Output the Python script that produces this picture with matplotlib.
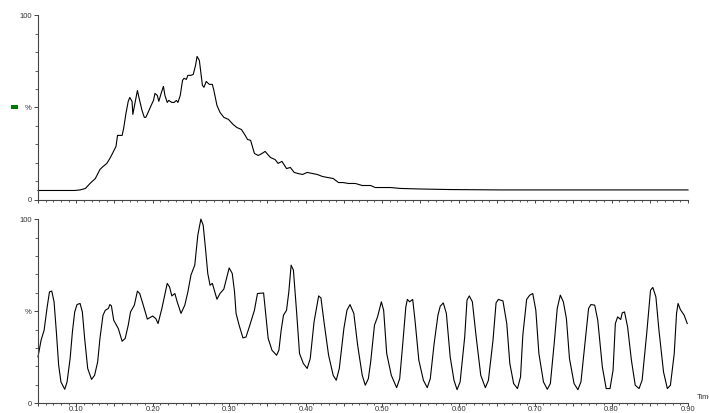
"""Two stacked chromatogram traces (TIC on top, extracted trace below)."""

import matplotlib

matplotlib.use("Agg")
import matplotlib.pyplot as plt
from matplotlib.patches import Rectangle
from matplotlib.ticker import FixedLocator, MultipleLocator

# top trace: time (min) and relative intensity (%)
top_time = [
    0.050, 0.079, 0.098, 0.105, 0.112, 0.118, 0.125, 0.131, 0.135, 0.140,
    0.144, 0.148, 0.152, 0.154, 0.160, 0.162, 0.165, 0.168, 0.170, 0.173,
    0.174, 0.180, 0.182, 0.186, 0.189, 0.191, 0.194, 0.198, 0.201, 0.203,
    0.206, 0.208, 0.211, 0.214, 0.216, 0.219, 0.221, 0.225, 0.228, 0.231,
    0.233, 0.236, 0.239, 0.241, 0.244, 0.246, 0.250, 0.253, 0.256, 0.258,
    0.261, 0.265, 0.267, 0.270, 0.274, 0.278, 0.280, 0.284, 0.288, 0.293,
    0.299, 0.305, 0.310, 0.316, 0.321, 0.324, 0.328, 0.330, 0.333, 0.338,
    0.343, 0.347, 0.354, 0.360, 0.364, 0.369, 0.375, 0.380, 0.385, 0.390,
    0.396, 0.402, 0.409, 0.415, 0.422, 0.428, 0.436, 0.443, 0.449, 0.456,
    0.465, 0.474, 0.485, 0.491, 0.498, 0.511, 0.524, 0.550, 0.589, 0.655,
    0.720, 0.786, 0.851, 0.900,
]
top_pct = [
    4.9, 4.9, 4.9, 5.2, 6.0, 8.7, 11.4, 16.3, 17.9, 19.6,
    22.3, 25.5, 28.8, 34.8, 34.8, 38.6, 46.7, 53.3, 55.4, 53.3,
    46.2, 59.2, 55.4, 48.4, 44.6, 44.6, 47.3, 51.1, 53.8, 57.6,
    56.5, 53.3, 57.6, 61.4, 56.5, 52.7, 53.8, 52.7, 52.7, 53.8,
    52.7, 56.5, 64.7, 65.8, 65.2, 67.4, 67.4, 67.9, 72.8, 77.7,
    75.5, 62.0, 60.9, 64.1, 62.5, 62.5, 59.2, 51.1, 47.3, 44.6,
    43.5, 40.8, 39.1, 38.0, 34.8, 32.6, 32.1, 29.3, 25.0, 23.9,
    25.0, 26.1, 22.8, 21.7, 19.6, 20.7, 16.8, 17.4, 14.7, 14.1,
    13.6, 14.7, 14.1, 13.6, 12.5, 12.0, 11.4, 9.2, 9.2, 8.7,
    8.7, 7.6, 7.6, 6.5, 6.5, 6.5, 6.0, 5.7, 5.4, 5.2,
    5.2, 5.2, 5.2, 5.2,
]

# bottom trace
bot_time = [
    0.050, 0.054, 0.058, 0.062, 0.065, 0.068, 0.071, 0.074, 0.077, 0.080,
    0.085, 0.088, 0.092, 0.095, 0.098, 0.101, 0.105, 0.108, 0.111, 0.115,
    0.120, 0.124, 0.128, 0.131, 0.135, 0.138, 0.142, 0.144, 0.146, 0.149,
    0.155, 0.160, 0.164, 0.168, 0.171, 0.176, 0.180, 0.183, 0.187, 0.193,
    0.200, 0.204, 0.207, 0.212, 0.219, 0.222, 0.225, 0.229, 0.232, 0.237,
    0.242, 0.246, 0.250, 0.255, 0.259, 0.263, 0.266, 0.269, 0.272, 0.275,
    0.278, 0.280, 0.284, 0.288, 0.293, 0.297, 0.300, 0.304, 0.307, 0.309,
    0.313, 0.318, 0.322, 0.327, 0.333, 0.337, 0.345, 0.347, 0.351, 0.356,
    0.362, 0.365, 0.368, 0.371, 0.375, 0.378, 0.381, 0.384, 0.388, 0.392,
    0.397, 0.402, 0.406, 0.411, 0.417, 0.420, 0.424, 0.430, 0.436, 0.440,
    0.444, 0.450, 0.454, 0.458, 0.463, 0.468, 0.474, 0.478, 0.482, 0.485,
    0.490, 0.494, 0.499, 0.502, 0.506, 0.512, 0.519, 0.523, 0.527, 0.531,
    0.533, 0.536, 0.540, 0.543, 0.548, 0.554, 0.559, 0.563, 0.568, 0.573,
    0.576, 0.580, 0.584, 0.589, 0.594, 0.598, 0.602, 0.608, 0.611, 0.614,
    0.618, 0.623, 0.629, 0.635, 0.639, 0.645, 0.649, 0.652, 0.658, 0.663,
    0.667, 0.672, 0.677, 0.681, 0.684, 0.689, 0.693, 0.697, 0.701, 0.705,
    0.711, 0.716, 0.720, 0.725, 0.729, 0.733, 0.737, 0.741, 0.745, 0.751,
    0.756, 0.760, 0.766, 0.770, 0.773, 0.778, 0.782, 0.788, 0.793, 0.798,
    0.802, 0.805, 0.808, 0.812, 0.814, 0.817, 0.821, 0.826, 0.831, 0.836,
    0.840, 0.846, 0.851, 0.854, 0.858, 0.862, 0.868, 0.873, 0.877, 0.882,
    0.885, 0.887, 0.890, 0.895, 0.899,
]
bot_pct = [
    25.2, 34.2, 39.7, 52.3, 60.5, 60.9, 55.1, 38.8, 20.7, 11.6,
    7.6, 11.6, 24.3, 38.8, 49.6, 53.6, 54.2, 49.6, 35.2, 18.9,
    13.0, 15.2, 22.4, 35.2, 47.8, 50.5, 51.5, 53.6, 52.9, 45.1,
    40.6, 33.7, 35.2, 42.4, 49.6, 53.3, 60.9, 59.6, 54.2, 45.7,
    47.4, 46.0, 43.3, 51.5, 65.1, 63.2, 58.3, 59.6, 55.1, 48.8,
    53.3, 60.5, 69.6, 75.0, 91.3, 100.0, 96.7, 84.1, 70.5, 64.1,
    65.1, 62.3, 56.5, 59.6, 62.0, 68.6, 73.5, 70.5, 60.5, 48.8,
    42.4, 35.5, 36.0, 42.4, 50.5, 59.6, 59.9, 51.5, 35.2, 28.8,
    26.1, 28.8, 39.7, 47.8, 50.5, 60.5, 75.0, 72.3, 50.5, 27.0,
    21.6, 18.9, 24.3, 44.2, 58.3, 57.2, 44.2, 26.1, 15.2, 12.5,
    18.9, 40.6, 50.5, 53.6, 48.8, 31.5, 15.2, 9.8, 13.4, 22.4,
    42.4, 46.9, 55.1, 50.5, 27.0, 15.2, 8.5, 13.4, 32.4, 52.3,
    56.4, 55.1, 56.4, 45.1, 23.4, 12.5, 8.5, 13.4, 32.4, 47.8,
    52.7, 54.5, 48.8, 25.2, 12.5, 7.4, 11.6, 36.0, 56.0, 58.3,
    55.1, 36.0, 15.2, 8.5, 12.5, 34.2, 54.5, 56.4, 55.6, 43.3,
    21.6, 10.7, 8.0, 14.3, 37.0, 56.4, 58.7, 59.6, 50.5, 27.0,
    11.6, 7.6, 10.7, 32.4, 51.5, 58.7, 55.1, 46.0, 24.3, 10.7,
    7.4, 11.6, 35.2, 51.5, 53.6, 53.3, 45.1, 19.7, 8.0, 8.0,
    17.9, 43.3, 46.9, 45.5, 49.1, 49.6, 41.5, 23.4, 9.8, 8.0,
    12.5, 37.9, 61.4, 62.9, 57.8, 39.7, 17.0, 8.0, 9.8, 27.0,
    48.8, 54.2, 50.9, 47.8, 43.3,
]

x_major = [0.05, 0.10, 0.15, 0.20, 0.25, 0.30, 0.35, 0.40, 0.45,
           0.50, 0.55, 0.60, 0.65, 0.70, 0.75, 0.80, 0.85, 0.90]
x_labels = ["", "0.10", "", "0.20", "", "0.30", "", "0.40", "",
            "0.50", "", "0.60", "", "0.70", "", "0.80", "", "0.90"]
y_ticks = [0, 50, 100]
y_labels = ["0", "%", "100"]

W, H = 709, 413
fig = plt.figure(figsize=(W / 100, H / 100), dpi=100)
plt.rcParams["font.family"] = ["Liberation Sans", "DejaVu Sans"]

left, right = 38 / W, 688 / W
ax_top = fig.add_axes([left, (H - 199.5) / H, right - left, 184.2 / H])
ax_bot = fig.add_axes([left, (H - 403.3) / H, right - left, 184.2 / H])

grey = "#444444"
for ax in (ax_top, ax_bot):
    for side in ("top", "right"):
        ax.spines[side].set_visible(False)
    for side in ("left", "bottom"):
        ax.spines[side].set_color(grey)
        ax.spines[side].set_linewidth(0.8)
    ax.set_xlim(0.05, 0.90)
    ax.set_ylim(0, 100)
    ax.xaxis.set_major_locator(FixedLocator(x_major))
    ax.xaxis.set_minor_locator(MultipleLocator(0.01))
    ax.yaxis.set_major_locator(FixedLocator(y_ticks))
    ax.yaxis.set_minor_locator(MultipleLocator(10))
    ax.set_yticklabels(y_labels)
    ax.tick_params(axis="x", which="major", length=2.2, width=0.7, color=grey,
                   direction="out", pad=-0.6, labelsize=5.5, labelcolor="#333333")
    ax.tick_params(axis="x", which="minor", length=1.4, width=0.6, color=grey,
                   direction="out")
    ax.tick_params(axis="y", which="major", length=3, width=0.7, color=grey,
                   direction="out", pad=1.5, labelsize=5.5, labelcolor="#333333")
    ax.tick_params(axis="y", which="minor", length=2, width=0.6, color=grey,
                   direction="out")
    ax.patch.set_alpha(0)

ax_top.set_xticklabels([""] * len(x_major))
ax_bot.set_xticklabels(x_labels)

ax_top.plot(top_time, top_pct, color="black", lw=0.8, clip_on=False)
ax_bot.plot(bot_time, bot_pct, color="black", lw=0.8, clip_on=False)

# small green marker beside the top trace's % label
fig.add_artist(Rectangle((11 / W, (H - 109.3) / H), 6.5 / W, 4 / H,
                         transform=fig.transFigure, color="#007a00", lw=0))

# axis title sits at the far right and runs off the edge, as in the original
fig.text(697 / W, (H - 401) / H, "Time", fontsize=5.5, color="#333333",
         ha="left", va="bottom")

fig.savefig("out.png", dpi=100)
